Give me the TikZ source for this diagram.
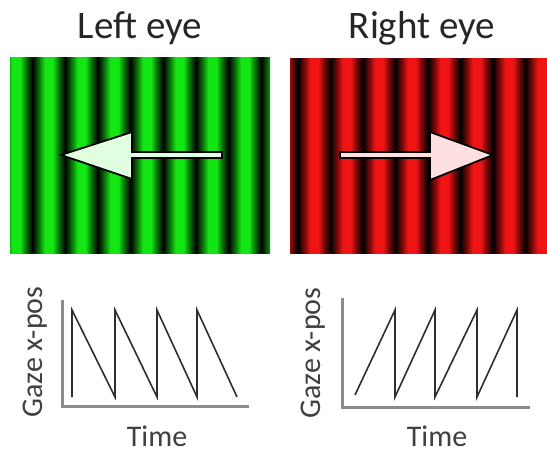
\documentclass[tikz,border=0pt]{standalone}
\usepackage{fontspec}
\setmainfont{Carlito}
\usetikzlibrary{positioning}
\definecolor{gratgreen}{HTML}{14E614}
\definecolor{gratred}{HTML}{F01414}
\definecolor{axisc}{HTML}{8C8C8C}
\definecolor{tracec}{HTML}{2E2E2E}
% one grating period: dark edge, broad bright band, dark edge (fitted part is 25bp--75bp)
\pgfdeclarehorizontalshading{greenbar}{100bp}{color(0bp)=(black); color(25bp)=(black);
  color(36bp)=(gratgreen!55!black); color(44bp)=(gratgreen); color(56bp)=(gratgreen);
  color(64bp)=(gratgreen!55!black); color(75bp)=(black); color(100bp)=(black)}
\pgfdeclarehorizontalshading{redbar}{100bp}{color(0bp)=(black); color(25bp)=(black);
  color(36bp)=(gratred!55!black); color(44bp)=(gratred); color(56bp)=(gratred);
  color(64bp)=(gratred!55!black); color(75bp)=(black); color(100bp)=(black)}

\begin{document}
\begin{tikzpicture}[
    x=1pt, y=-1pt,
    title/.style={font=\fontsize{39}{39}\selectfont, text=black!85, anchor=base, inner sep=0pt},
    axlabel/.style={font=\fontsize{30}{30}\selectfont, text=black!75, inner sep=0pt},
    axisline/.style={axisc, line width=3pt},
    trace/.style={tracec, line width=1.6pt, line join=miter},
    motion/.style={draw=black, line width=1.8pt, line join=miter}]

  \useasboundingbox (0,0) rectangle (547,453);

  % titles
  \node[title] (lefttitle) at (140,38) {Left eye};
  \node[title] (righttitle) at (422,38) {Right eye};

  % gratings: one shaded band per period
  \begin{scope}
    \clip (10,57) rectangle (270,253);
    \foreach \k in {-1,...,7} {
      \shade[shading=greenbar]
        ({32.5+32.7*\k},57) rectangle ({32.5+32.7*(\k+1)},253);
    }
  \end{scope}
  \begin{scope}
    \clip (290,58) rectangle (547,253);
    \foreach \k in {-1,...,7} {
      \shade[shading=redbar]
        ({298+32.5*\k},58) rectangle ({298+32.5*(\k+1)},253);
    }
  \end{scope}

  % motion arrows
  \draw[motion, fill=green!12!white]
    (222,152) -- (132,152) -- (132,132) -- (61,155) -- (132,179) -- (132,158) -- (222,158) -- cycle;
  \draw[motion, fill=red!12!white]
    (340,152) -- (430,152) -- (430,132) -- (493,155) -- (430,180) -- (430,158) -- (340,158) -- cycle;

  % left plot: gaze drifts left, resets right
  \coordinate (lo) at (62,406);
  \draw[axisline] (62,300) -- (lo) -- (249,406);
  \draw[trace] (72,397) -- (72,310)
    \foreach \x in {115,157,197} { -- (\x,397) -- (\x,310) } -- (237,397);
  \node[axlabel, rotate=90] (leftgaze) at (35,352) {Gaze x-pos};
  \node[axlabel, anchor=base] (lefttime) at (157,446) {Time};

  % right plot: gaze drifts right, resets left
  \coordinate (ro) at (342,407);
  \draw[axisline] (342,298) -- (ro) -- (530,407);
  \draw[trace] (355,395)
    \foreach \x in {395,435,477,517} { -- (\x,310) -- (\x,397) } ;
  \node[axlabel, rotate=90] (rightgaze) at (313,353) {Gaze x-pos};
  \node[axlabel, anchor=base] (righttime) at (437,446) {Time};
\end{tikzpicture}
\end{document}
